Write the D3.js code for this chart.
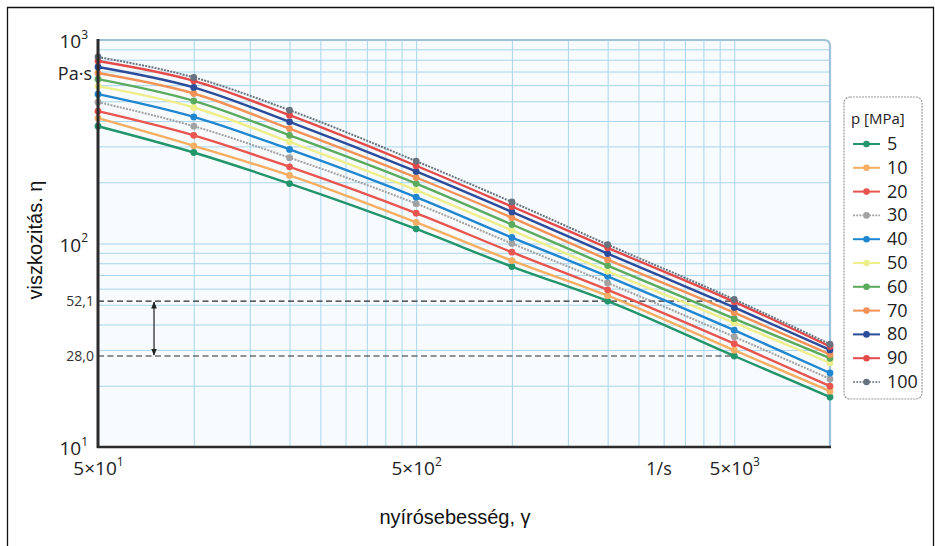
<!DOCTYPE html>
<html>
<head>
<meta charset="utf-8">
<script src="https://cdn.jsdelivr.net/npm/d3@7/dist/d3.min.js"></script>
<style>
  html, body { margin: 0; padding: 0; background: #ffffff; }
  svg { display: block; }
</style>
</head>
<body>
<svg id="chart" width="935" height="546"></svg>
<script>
// ---------- DATA ----------
const shearRates = [50, 100, 200, 500, 1000, 2000, 5000, 10000];
const pressures = [5, 10, 20, 30, 40, 50, 60, 70, 80, 90, 100];
const visc5   = [377, 280, 197, 118, 77.0, 52.1, 28.0, 17.6];
const visc10  = [413, 302, 216, 127, 82.4, 55.4, 29.9, 18.8];
const visc20  = [447, 340, 238, 141, 90.6, 59.2, 32.2, 19.9];
const visc30  = [495, 377, 264, 157, 100, 64.0, 34.8, 21.6];
const visc40  = [542, 419, 290, 169, 107, 69.0, 37.5, 23.1];
const visc50  = [593, 466, 316, 183, 116, 73.0, 40.8, 25.9];
const visc60  = [642, 502, 340, 197, 124, 77.9, 42.7, 27.3];
const visc70  = [688, 546, 367, 211, 134, 83.3, 45.7, 28.5];
const visc80  = [737, 585, 396, 226, 143, 89.2, 48.5, 30.0];
const visc90  = [788, 630, 427, 241, 152, 95.2, 51.7, 31.2];
const visc100 = [825, 655, 452, 254, 160, 98.8, 53.1, 32.0];
const seriesColors = ["#23956a", "#f5ae62", "#e8554e", "#a2a2a2", "#1f86cf", "#eeee8a",
                      "#5aab5e", "#f39256", "#2b4b9b", "#e44a4a", "#67737f"];
const dottedSeries = [30, 100];

const xGridValues = [100, 150, 200, 250, 300, 350, 400, 450, 500, 1000, 1500, 2000, 2500, 3000, 3500, 4000, 4500, 5000];
const yGridValues = [20, 30, 40, 50, 60, 70, 80, 90, 100, 200, 300, 400, 500, 600, 700, 800, 900];
const xTickValues = [50, 500, 5000];
const xTickBase = ["5×10", "5×10", "5×10"];
const xTickExp = ["1", "2", "3"];
const yTickValues = [1000, 100, 10];
const yTickBase = ["10", "10", "10"];
const yTickExp = ["3", "2", "1"];
const refLevels = [52.1, 28.0];
const refLabels = ["52,1", "28,0"];
const refEndX = 5000;
const arrowX = 75;

const viscByP = [visc5, visc10, visc20, visc30, visc40, visc50, visc60, visc70, visc80, visc90, visc100];

// ---------- LAYOUT ----------
const svg = d3.select("#chart");
const L = 98, R = 830, T = 40, B = 447;
const x = d3.scaleLog().domain([50, 10000]).range([L, R]);
const y = d3.scaleLog().domain([10, 1000]).range([B, T]);
const tickFont = "'Liberation Sans Narrow', 'Open Sans', 'Noto Sans', sans-serif";

// outer frame
svg.append("path")
  .attr("d", `M7.5,546 L7.5,7.5 L933.5,7.5 L933.5,546`)
  .attr("fill", "none").attr("stroke", "#111").attr("stroke-width", 1.3);

// plot background
svg.append("rect").attr("x", L).attr("y", T).attr("width", R - L).attr("height", B - T)
  .attr("fill", "#f7fbfd");

// gridlines using axes
const gridColor = "#a9d5ed";
const gx = svg.append("g").attr("transform", `translate(0,${B})`)
  .call(d3.axisBottom(x).tickValues(xGridValues).tickSize(-(B - T)).tickFormat(""));
gx.select(".domain").remove();
gx.selectAll("line").attr("stroke", gridColor).attr("stroke-width", 1);

const gy = svg.append("g").attr("transform", `translate(${L},0)`)
  .call(d3.axisLeft(y).tickValues(yGridValues).tickSize(-(R - L)).tickFormat(""));
gy.select(".domain").remove();
gy.selectAll("line").attr("stroke", gridColor).attr("stroke-width", 1);

// top/right frame (light, rounded corner)
const rc = 6;
svg.append("path")
  .attr("d", `M${L},${T} L${R - rc},${T} Q${R},${T} ${R},${T + rc} L${R},${B}`)
  .attr("fill", "none").attr("stroke", "#9ec2da").attr("stroke-width", 2.2);

// reference dashed lines
refLevels.forEach(v => {
  svg.append("line")
    .attr("x1", x(50)).attr("x2", x(refEndX))
    .attr("y1", y(v)).attr("y2", y(v))
    .attr("stroke", "#2a2a2a").attr("stroke-width", 1.2)
    .attr("stroke-dasharray", "6,3.5");
});

// double arrow
const defs = svg.append("defs");
defs.append("marker").attr("id", "ah").attr("viewBox", "0 0 10 10")
  .attr("refX", 9).attr("refY", 5).attr("markerWidth", 6).attr("markerHeight", 6)
  .attr("orient", "auto-start-reverse")
  .append("path").attr("d", "M0,1 L10,5 L0,9 z").attr("fill", "#222");
svg.append("line")
  .attr("x1", x(arrowX)).attr("x2", x(arrowX))
  .attr("y1", y(refLevels[0]) + 1).attr("y2", y(refLevels[1]) - 1)
  .attr("stroke", "#222").attr("stroke-width", 1.2)
  .attr("marker-start", "url(#ah)").attr("marker-end", "url(#ah)");

// curves
const line = d3.line().x(d => x(d[0])).y(d => y(d[1])).curve(d3.curveMonotoneX);
pressures.forEach((p, i) => {
  const pts = shearRates.map((s, j) => [s, viscByP[i][j]]);
  const dotted = dottedSeries.includes(p);
  svg.append("path").datum(pts)
    .attr("d", line)
    .attr("fill", "none")
    .attr("stroke", seriesColors[i])
    .attr("stroke-width", dotted ? 2 : 2.4)
    .attr("stroke-dasharray", dotted ? "2,1.2" : null);
});
pressures.forEach((p, i) => {
  const pts = shearRates.map((s, j) => [s, viscByP[i][j]]);
  svg.append("g").selectAll("circle").data(pts).join("circle")
    .attr("cx", d => x(d[0])).attr("cy", d => y(d[1]))
    .attr("r", 3.4).attr("fill", seriesColors[i]);
});

// axes lines (dark left and bottom)
svg.append("line").attr("x1", L).attr("x2", L).attr("y1", T - 1).attr("y2", B + 1)
  .attr("stroke", "#2b2b2b").attr("stroke-width", 3);
svg.append("line").attr("x1", L - 1).attr("x2", R + 1).attr("y1", B).attr("y2", B)
  .attr("stroke", "#2b2b2b").attr("stroke-width", 2.6);

// tick labels with superscripts
const yAx = svg.append("g").attr("transform", `translate(${L},0)`)
  .call(d3.axisLeft(y).tickValues(yTickValues).tickSize(0).tickPadding(10)
    .tickFormat(() => ""));
yAx.select(".domain").remove();
yAx.selectAll(".tick text").each(function(d, i) {
  const t = d3.select(this).attr("font-family", tickFont).attr("font-size", 19)
    .attr("fill", "#222").attr("text-anchor", "end").attr("dy", "0.4em");
  t.append("tspan").text(yTickBase[i]);
  t.append("tspan").attr("font-size", 12).attr("dy", "-0.8em").text(yTickExp[i]);
});

const xAx = svg.append("g").attr("transform", `translate(0,${B})`)
  .call(d3.axisBottom(x).tickValues(xTickValues).tickSize(0).tickPadding(10)
    .tickFormat(() => ""));
xAx.select(".domain").remove();
xAx.selectAll(".tick text").each(function(d, i) {
  const t = d3.select(this).attr("font-family", tickFont).attr("font-size", 19)
    .attr("fill", "#222").attr("text-anchor", "middle").attr("dy", "0.95em");
  t.append("tspan").text(xTickBase[i]);
  t.append("tspan").attr("font-size", 12).attr("dy", "-0.75em").text(xTickExp[i]);
});

// units
svg.append("text").attr("x", 92).attr("y", 80).attr("text-anchor", "end")
  .attr("font-family", tickFont).attr("font-size", 18).attr("fill", "#222").text("Pa·s");
svg.append("text").attr("x", x(2900)).attr("y", 475).attr("text-anchor", "middle")
  .attr("font-family", tickFont).attr("font-size", 18).attr("fill", "#222").text("1/s");

// reference labels
refLevels.forEach((v, i) => {
  svg.append("text").attr("x", 94).attr("y", y(v) + 4.5).attr("text-anchor", "end")
    .attr("font-family", tickFont).attr("font-size", 14)
    .attr("fill", "#333").text(refLabels[i]);
});

// axis titles
svg.append("text").attr("transform", "translate(42,240) rotate(-90)")
  .attr("text-anchor", "middle").attr("font-family", "'Liberation Sans', Arial, sans-serif")
  .attr("font-size", 20).attr("fill", "#111").text("viszkozitás. η");
svg.append("text").attr("x", 455).attr("y", 524).attr("text-anchor", "middle")
  .attr("font-family", "'Liberation Sans', Arial, sans-serif")
  .attr("font-size", 20).attr("fill", "#111").text("nyírósebesség, γ");

// legend
const lg = svg.append("g");
lg.append("rect").attr("x", 844).attr("y", 97).attr("width", 78).attr("height", 302)
  .attr("rx", 6).attr("fill", "#ffffff").attr("stroke", "#9a9a9a").attr("stroke-width", 1.2)
  .attr("stroke-dasharray", "2,1");
lg.append("text").attr("x", 851).attr("y", 124).attr("font-family", tickFont)
  .attr("font-size", 15).attr("fill", "#222").text("p [MPa]");
pressures.forEach((p, i) => {
  const yy = 144 + i * 23.8;
  const dotted = dottedSeries.includes(p);
  lg.append("line").attr("x1", 853).attr("x2", 880).attr("y1", yy).attr("y2", yy)
    .attr("stroke", seriesColors[i]).attr("stroke-width", dotted ? 1.6 : 2)
    .attr("stroke-dasharray", dotted ? "2,1.2" : null);
  lg.append("circle").attr("cx", 866.5).attr("cy", yy).attr("r", 3.3).attr("fill", seriesColors[i]);
  lg.append("text").attr("x", 887).attr("y", yy + 6).attr("font-family", tickFont)
    .attr("font-size", 18).attr("fill", "#222").text(p);
});
</script>
</body>
</html>
